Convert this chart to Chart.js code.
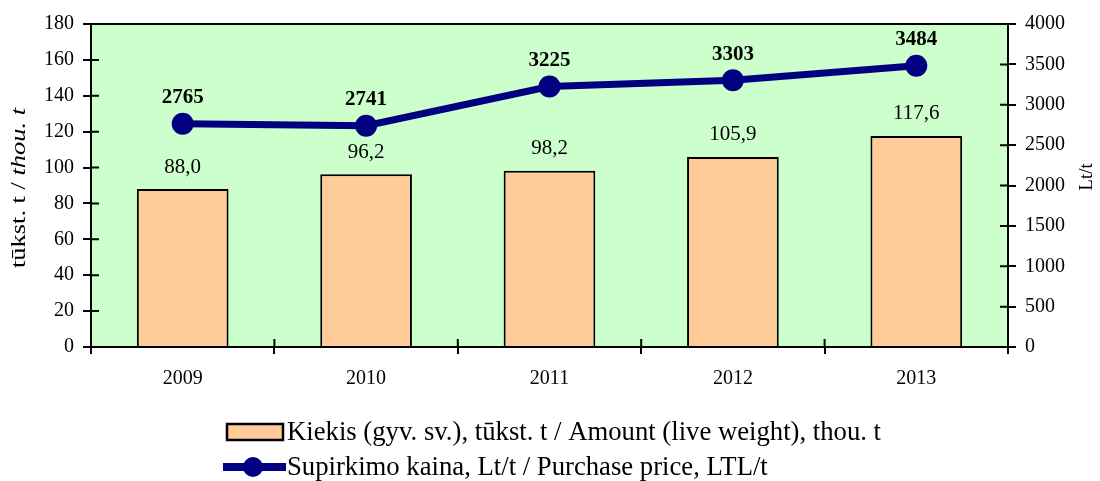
<!DOCTYPE html>
<html>
<head>
<meta charset="utf-8">
<script src="https://cdn.jsdelivr.net/npm/chart.js@4"></script>
<style>
  html, body { margin: 0; padding: 0; background: #fff; }
  #wrap { width: 1100px; height: 481px; }
</style>
</head>
<body>
<div id="wrap"><canvas id="myChart" width="1100" height="481"></canvas></div>
<script>
const years = ["2009", "2010", "2011", "2012", "2013"];
const amount = [88.0, 96.2, 98.2, 105.9, 117.6];
const price = [2765, 2741, 3225, 3303, 3484];

const amountLabel = "Kiekis (gyv. sv.), tūkst. t / Amount (live weight), thou. t";
const priceLabel = "Supirkimo kaina, Lt/t / Purchase price, LTL/t";

const serif = "'Liberation Serif', 'Times New Roman', serif";
const green = "#CCFFCC";
const peach = "#FFCC99";
const navy = "#000080";

// green plot background
const plotBg = {
  id: "plotBg",
  beforeDraw(chart) {
    const { ctx, chartArea: { top, bottom, left, right } } = chart;
    ctx.save();
    ctx.fillStyle = green;
    ctx.fillRect(left, top, right - left, bottom - top);
    ctx.restore();
  },
};

// top frame line + inner halves of the ticks
const frame = {
  id: "frame",
  afterDraw(chart) {
    const { ctx, chartArea: { top, bottom, left, right }, scales: { x, y, y1 } } = chart;
    ctx.save();
    ctx.strokeStyle = "#000";
    ctx.lineWidth = 2;
    ctx.beginPath();
    ctx.moveTo(left, top);
    ctx.lineTo(right, top);
    y.ticks.forEach((t) => {
      const py = y.getPixelForValue(t.value);
      ctx.moveTo(left, py);
      ctx.lineTo(left + 8, py);
    });
    y1.ticks.forEach((t) => {
      const py = y1.getPixelForValue(t.value);
      ctx.moveTo(right, py);
      ctx.lineTo(right - 8, py);
    });
    for (let i = 1; i < years.length; i++) {
      const px = (x.getPixelForValue(i - 1) + x.getPixelForValue(i)) / 2;
      ctx.moveTo(px, bottom);
      ctx.lineTo(px, bottom - 8);
    }
    ctx.stroke();
    ctx.restore();
  },
};

// value labels above bars and points
const valueLabels = {
  id: "valueLabels",
  afterDatasetsDraw(chart) {
    const { ctx } = chart;
    ctx.save();
    ctx.textAlign = "center";
    ctx.textBaseline = "middle";
    ctx.fillStyle = "#000";
    const bars = chart.getDatasetMeta(1).data;
    ctx.font = "21px " + serif;
    bars.forEach((bar, i) => {
      ctx.fillText(amount[i].toFixed(1).replace(".", ","), bar.x, bar.y - 22);
    });
    const pts = chart.getDatasetMeta(0).data;
    ctx.font = "bold 21px " + serif;
    pts.forEach((pt, i) => {
      ctx.fillText(String(price[i]), pt.x, pt.y - 26);
    });
    ctx.restore();
  },
};

// axis titles (left one has an italic part)
const axisTitles = {
  id: "axisTitles",
  afterDraw(chart) {
    const { ctx } = chart;
    ctx.save();
    ctx.fillStyle = "#000";
    ctx.textBaseline = "middle";
    ctx.textAlign = "left";

    const partA = "tūkst. t / ";
    const partB = "thou. t";
    ctx.font = "20px " + serif;
    const wA = ctx.measureText(partA).width;
    ctx.font = "italic 20px " + serif;
    const wB = ctx.measureText(partB).width;
    const stretch = 160 / (wA + wB);
    ctx.translate(20, 188);
    ctx.rotate(-Math.PI / 2);
    ctx.scale(stretch, 1);
    const start = -(wA + wB) / 2;
    ctx.font = "20px " + serif;
    ctx.fillText(partA, start, 0);
    ctx.font = "italic 20px " + serif;
    ctx.fillText(partB, start + wA, 0);
    ctx.restore();

    ctx.save();
    ctx.fillStyle = "#000";
    ctx.textBaseline = "middle";
    ctx.textAlign = "center";
    ctx.font = "19px " + serif;
    ctx.translate(1087, 177);
    ctx.rotate(-Math.PI / 2);
    ctx.fillText("Lt/t", 0, 0);
    ctx.restore();
  },
};

// legend under the chart
const bottomLegend = {
  id: "bottomLegend",
  afterDraw(chart) {
    const { ctx } = chart;
    ctx.save();
    ctx.fillStyle = peach;
    ctx.fillRect(227, 424, 56, 16);
    ctx.strokeStyle = "#000";
    ctx.lineWidth = 2.5;
    ctx.strokeRect(227, 424, 56, 16);

    ctx.strokeStyle = navy;
    ctx.lineWidth = 8;
    ctx.beginPath();
    ctx.moveTo(223, 467);
    ctx.lineTo(286, 467);
    ctx.stroke();
    ctx.fillStyle = navy;
    ctx.beginPath();
    ctx.arc(253, 467, 10, 0, Math.PI * 2);
    ctx.fill();

    ctx.fillStyle = "#000";
    ctx.font = "26.7px " + serif;
    ctx.textAlign = "left";
    ctx.textBaseline = "middle";
    ctx.fillText(amountLabel, 287, 433);
    ctx.fillText(priceLabel, 287, 468);
    ctx.restore();
  },
};

const tickFont = { family: serif, size: 20 };

const config = {
  type: "bar",
  data: {
    labels: years,
    datasets: [
      {
        type: "line",
        label: priceLabel,
        data: price,
        yAxisID: "y1",
        borderColor: navy,
        backgroundColor: navy,
        borderWidth: 7,
        pointRadius: 11,
        pointBackgroundColor: navy,
        pointBorderWidth: 0,
        tension: 0,
        order: 0,
      },
      {
        type: "bar",
        label: amountLabel,
        data: amount,
        yAxisID: "y",
        backgroundColor: peach,
        borderColor: "#000",
        borderWidth: 2,
        borderSkipped: "bottom",
        categoryPercentage: 1,
        barPercentage: 0.5,
        order: 1,
      },
    ],
  },
  options: {
    responsive: false,
    animation: false,
    layout: { padding: { top: 24, left: 0, right: 0, bottom: 0 } },
    scales: {
      x: {
        offset: true,
        afterFit: (s) => { s.height = 134; },
        grid: { offset: true, drawOnChartArea: false, color: "#000", lineWidth: 2, tickLength: 7 },
        border: { color: "#000", width: 2 },
        ticks: { color: "#000", font: tickFont, padding: 13 },
      },
      y: {
        position: "left",
        min: 0,
        max: 180,
        afterFit: (s) => { s.width = 91; },
        grid: { drawOnChartArea: false, color: "#000", lineWidth: 2, tickLength: 8 },
        border: { color: "#000", width: 2 },
        ticks: { stepSize: 20, color: "#000", font: tickFont, padding: 9 },
      },
      y1: {
        position: "right",
        min: 0,
        max: 4000,
        afterFit: (s) => { s.width = 92; },
        grid: { drawOnChartArea: false, color: "#000", lineWidth: 2, tickLength: 8 },
        border: { color: "#000", width: 2 },
        ticks: { stepSize: 500, color: "#000", font: tickFont, padding: 9, callback: (v) => String(v) },
      },
    },
    plugins: {
      legend: { display: false },
      tooltip: { enabled: false },
    },
  },
  plugins: [plotBg, frame, valueLabels, axisTitles, bottomLegend],
};

const myChart = new Chart(document.getElementById("myChart"), config);
</script>
</body>
</html>
